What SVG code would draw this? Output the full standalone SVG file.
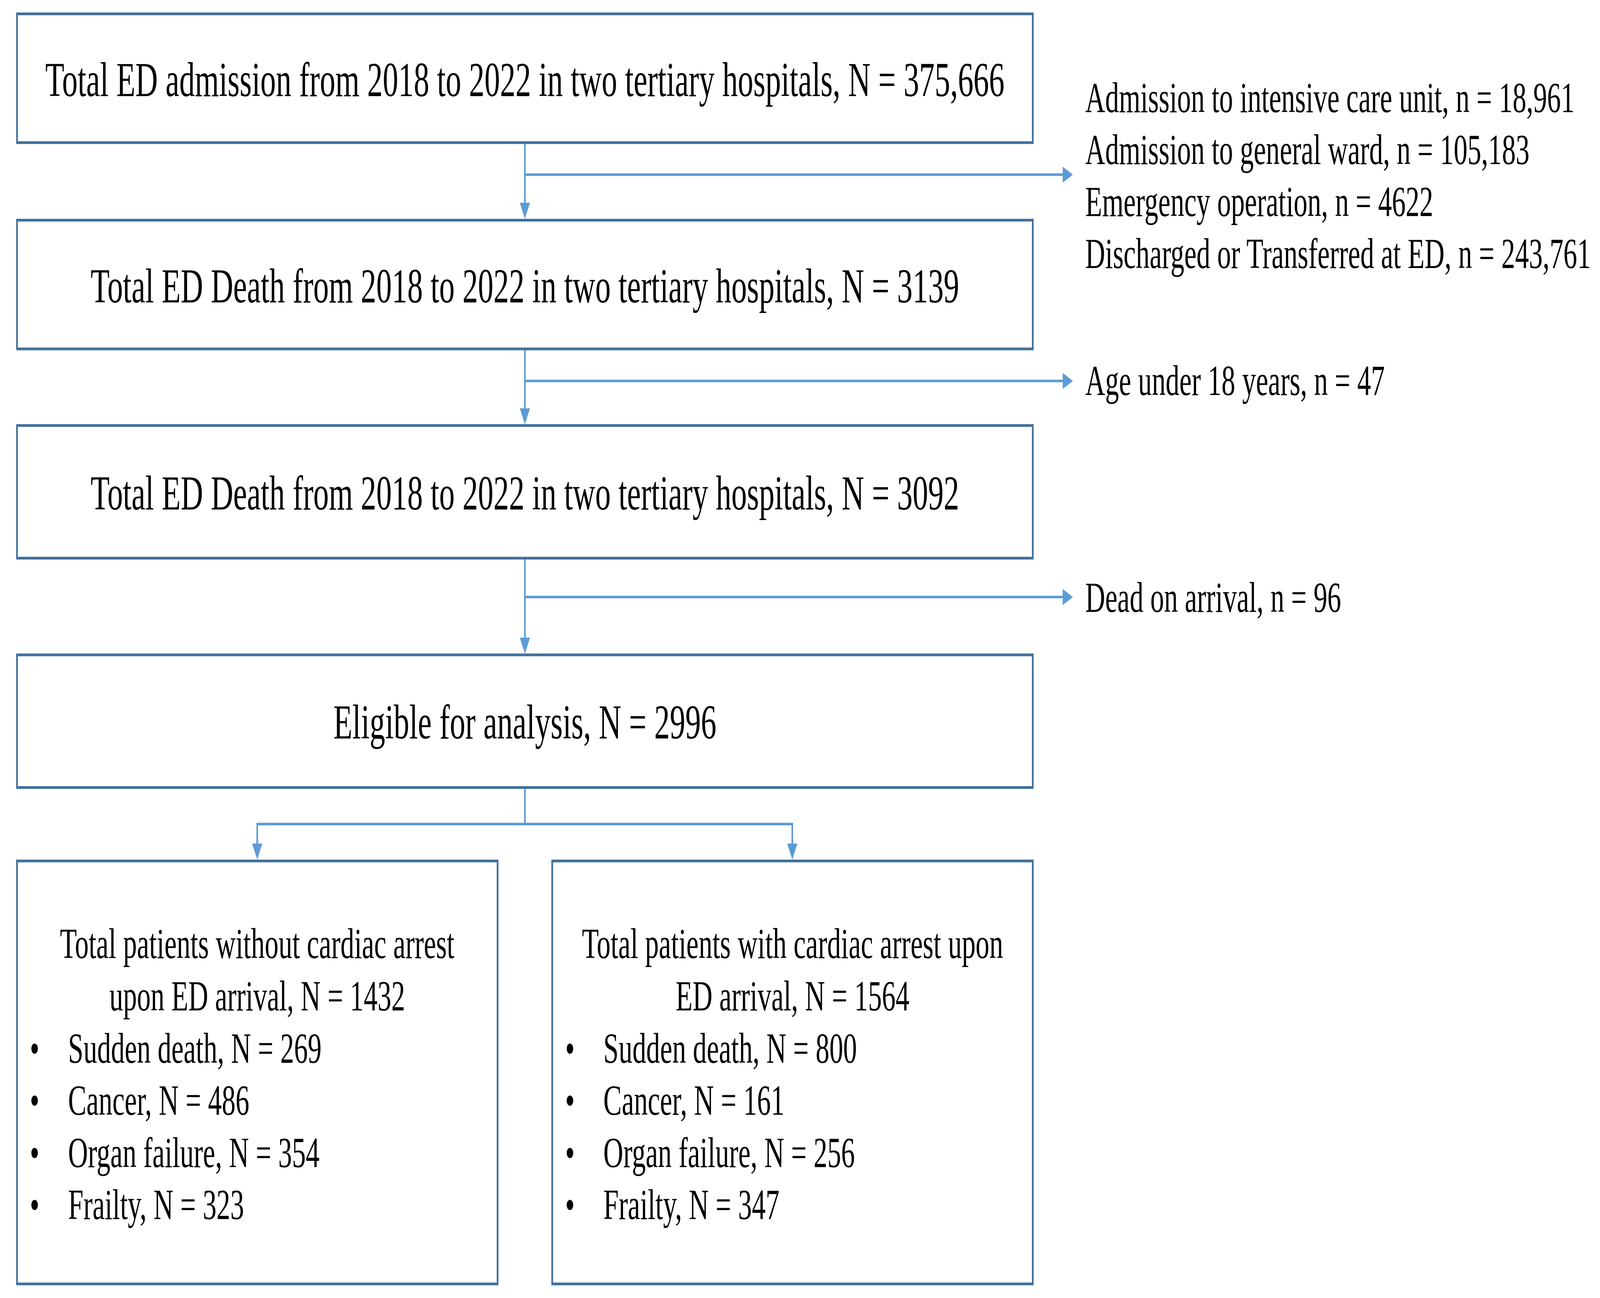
<svg xmlns="http://www.w3.org/2000/svg" width="6444" height="3322" viewBox="0 0 6444 3322" preserveAspectRatio="none">
<style>
svg:root{width:100vw;height:100vh;display:block}
.box{fill:#FFFFFF;stroke:#41719C;stroke-width:7}
.con{fill:none;stroke:#5B9BD5;stroke-width:6.5}
.t{font-family:"Liberation Serif","Times New Roman",serif;fill:#000000}
.big{font-size:125px;text-anchor:middle}
.mid{font-size:111px}
.c{text-anchor:middle}
</style>
<defs>
<marker id="ah" markerUnits="userSpaceOnUse" markerWidth="41" markerHeight="41" viewBox="0 0 41 41" refX="11" refY="20.5" orient="auto">
<path d="M0,0 L41,20.5 L0,41 Z" fill="#5B9BD5"/>
</marker>
</defs>
<rect width="6444" height="3322" fill="#FFFFFF"/>
<g id="connectors">
<line class="con" x1="2114" y1="365" x2="2114" y2="530" marker-end="url(#ah)"/>
<line class="con" x1="2114" y1="447" x2="4291" y2="447" marker-end="url(#ah)"/>
<line class="con" x1="2114" y1="893" x2="2114" y2="1056" marker-end="url(#ah)"/>
<line class="con" x1="2114" y1="975" x2="4291" y2="975" marker-end="url(#ah)"/>
<line class="con" x1="2114" y1="1428" x2="2114" y2="1643" marker-end="url(#ah)"/>
<line class="con" x1="2114" y1="1528" x2="4291" y2="1528" marker-end="url(#ah)"/>
<polyline class="con" points="2114,2015 2114,2109"/>
<polyline class="con" points="1036,2170 1036,2109 3191,2109 3191,2170"/>
<line class="con" x1="1036" y1="2150" x2="1036" y2="2170" marker-end="url(#ah)"/>
<line class="con" x1="3191" y1="2150" x2="3191" y2="2170" marker-end="url(#ah)"/>
</g>
<g id="n1">
<rect class="box" x="68.5" y="35.5" width="4091" height="329.5"/>
<text class="t big" x="2114" y="246">Total ED admission from 2018 to 2022 in two tertiary hospitals, N = 375,666</text>
</g>
<g id="n2">
<rect class="box" x="68.5" y="563.5" width="4091" height="329.5"/>
<text class="t big" x="2114" y="774">Total ED Death from 2018 to 2022 in two tertiary hospitals, N = 3139</text>
</g>
<g id="n3">
<rect class="box" x="68.5" y="1089" width="4091" height="339.5"/>
<text class="t big" x="2114" y="1304">Total ED Death from 2018 to 2022 in two tertiary hospitals, N = 3092</text>
</g>
<g id="n4">
<rect class="box" x="68.5" y="1676" width="4091" height="339.5"/>
<text class="t big" x="2114" y="1890">Eligible for analysis, N = 2996</text>
</g>
<g id="ex1">
<text class="t mid" x="4371" y="287">Admission to intensive care unit, n = 18,961</text>
<text class="t mid" x="4371" y="420">Admission to general ward, n = 105,183</text>
<text class="t mid" x="4371" y="553">Emergency operation, n = 4622</text>
<text class="t mid" x="4371" y="686">Discharged or Transferred at ED, n = 243,761</text>
</g>
<g id="ex2">
<text class="t mid" x="4371" y="1011">Age under 18 years, n = 47</text>
</g>
<g id="ex3">
<text class="t mid" x="4371" y="1566">Dead on arrival, n = 96</text>
</g>
<g id="n5">
<rect class="box" x="68.5" y="2203.5" width="1935.5" height="1082.5"/>
<text class="t mid c" x="1036" y="2452">Total patients without cardiac arrest</text>
<text class="t mid c" x="1036" y="2586">upon ED arrival, N = 1432</text>
<text class="t mid" x="120" y="2720">•</text>
<text class="t mid" x="274" y="2720">Sudden death, N = 269</text>
<text class="t mid" x="120" y="2853">•</text>
<text class="t mid" x="274" y="2853">Cancer, N = 486</text>
<text class="t mid" x="120" y="2987">•</text>
<text class="t mid" x="274" y="2987">Organ failure, N = 354</text>
<text class="t mid" x="120" y="3120">•</text>
<text class="t mid" x="274" y="3120">Frailty, N = 323</text>
</g>
<g id="n6">
<rect class="box" x="2224" y="2203.5" width="1935.5" height="1082.5"/>
<text class="t mid c" x="3192" y="2452">Total patients with cardiac arrest upon</text>
<text class="t mid c" x="3192" y="2586">ED arrival, N = 1564</text>
<text class="t mid" x="2276" y="2720">•</text>
<text class="t mid" x="2430" y="2720">Sudden death, N = 800</text>
<text class="t mid" x="2276" y="2853">•</text>
<text class="t mid" x="2430" y="2853">Cancer, N = 161</text>
<text class="t mid" x="2276" y="2987">•</text>
<text class="t mid" x="2430" y="2987">Organ failure, N = 256</text>
<text class="t mid" x="2276" y="3120">•</text>
<text class="t mid" x="2430" y="3120">Frailty, N = 347</text>
</g>
</svg>
